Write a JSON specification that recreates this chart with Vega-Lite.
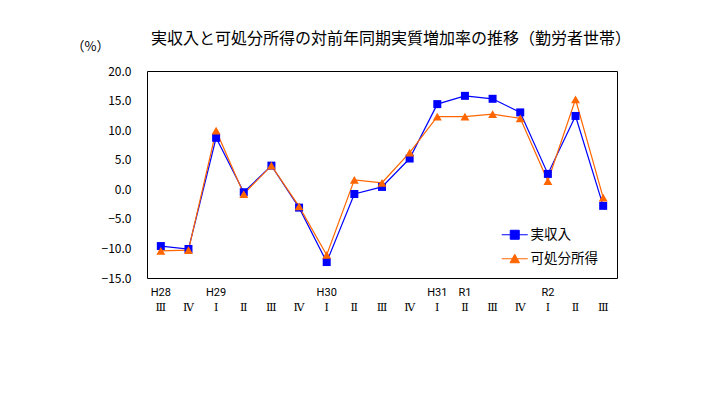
{
  "$schema": "https://vega.github.io/schema/vega-lite/v6.json",
  "width": 470,
  "height": 207,
  "autosize": {"type": "none"},
  "padding": {"left": 147, "top": 71, "right": 106, "bottom": 120},
  "background": "white",
  "config": {
    "view": {"stroke": "black", "strokeWidth": 1},
    "font": "Noto Sans CJK JP",
    "axis": {"labelOverlap": false}
  },
  "title": {
    "text": "実収入と可処分所得の対前年同期実質増加率の推移（勤労者世帯）",
    "font": "Noto Sans CJK JP",
    "fontSize": 16,
    "fontWeight": "normal",
    "color": "black",
    "anchor": "middle",
    "baseline": "alphabetic",
    "offset": -20,
    "dx": 9
  },
  "data": {
    "values": [
      {"period": "H28 Ⅲ", "series": "実収入", "value": -9.6},
      {"period": "H28 Ⅳ", "series": "実収入", "value": -10.1},
      {"period": "H29 Ⅰ", "series": "実収入", "value": 8.7},
      {"period": "H29 Ⅱ", "series": "実収入", "value": -0.5},
      {"period": "H29 Ⅲ", "series": "実収入", "value": 4.0},
      {"period": "H29 Ⅳ", "series": "実収入", "value": -3.1},
      {"period": "H30 Ⅰ", "series": "実収入", "value": -12.3},
      {"period": "H30 Ⅱ", "series": "実収入", "value": -0.8},
      {"period": "H30 Ⅲ", "series": "実収入", "value": 0.4},
      {"period": "H30 Ⅳ", "series": "実収入", "value": 5.2},
      {"period": "H31 Ⅰ", "series": "実収入", "value": 14.4},
      {"period": "R1 Ⅱ", "series": "実収入", "value": 15.8},
      {"period": "R1 Ⅲ", "series": "実収入", "value": 15.3},
      {"period": "R1 Ⅳ", "series": "実収入", "value": 13.0},
      {"period": "R2 Ⅰ", "series": "実収入", "value": 2.6},
      {"period": "R2 Ⅱ", "series": "実収入", "value": 12.4},
      {"period": "R2 Ⅲ", "series": "実収入", "value": -2.8},
      {"period": "H28 Ⅲ", "series": "可処分所得", "value": -10.4},
      {"period": "H28 Ⅳ", "series": "可処分所得", "value": -10.3},
      {"period": "H29 Ⅰ", "series": "可処分所得", "value": 9.9},
      {"period": "H29 Ⅱ", "series": "可処分所得", "value": -0.8},
      {"period": "H29 Ⅲ", "series": "可処分所得", "value": 4.0},
      {"period": "H29 Ⅳ", "series": "可処分所得", "value": -2.9},
      {"period": "H30 Ⅰ", "series": "可処分所得", "value": -11.1},
      {"period": "H30 Ⅱ", "series": "可処分所得", "value": 1.6},
      {"period": "H30 Ⅲ", "series": "可処分所得", "value": 1.1},
      {"period": "H30 Ⅳ", "series": "可処分所得", "value": 6.2},
      {"period": "H31 Ⅰ", "series": "可処分所得", "value": 12.3},
      {"period": "R1 Ⅱ", "series": "可処分所得", "value": 12.3},
      {"period": "R1 Ⅲ", "series": "可処分所得", "value": 12.7},
      {"period": "R1 Ⅳ", "series": "可処分所得", "value": 12.0},
      {"period": "R2 Ⅰ", "series": "可処分所得", "value": 1.4},
      {"period": "R2 Ⅱ", "series": "可処分所得", "value": 15.2},
      {"period": "R2 Ⅲ", "series": "可処分所得", "value": -1.4}
    ]
  },
  "encoding": {
    "x": {
      "field": "period",
      "type": "ordinal",
      "sort": null,
      "scale": {"type": "band", "paddingInner": 0, "paddingOuter": 0},
      "axis": {
        "title": null,
        "labelAngle": 0,
        "labelBaseline": "top",
        "labelLineHeight": 15,
        "labelPadding": 8,
        "labelFont": "Roboto, DejaVu Serif",
        "labelFontSize": 11,
        "labelColor": "black",
        "labelOverlap": false,
        "ticks": false,
        "domain": false,
        "labelExpr": "[indexof(['H28 Ⅲ','H29 Ⅰ','H30 Ⅰ','H31 Ⅰ','R1 Ⅱ','R2 Ⅰ'], datum.value) >= 0 ? split(datum.value, ' ')[0] : ' ', split(datum.value, ' ')[1]]"
      }
    },
    "y": {
      "field": "value",
      "type": "quantitative",
      "scale": {"domain": [-15, 20], "nice": false, "zero": false},
      "axis": {
        "title": "（%）",
        "titleAngle": 0,
        "titleX": -57,
        "titleY": -25,
        "titleAlign": "center",
        "titleBaseline": "middle",
        "titleFont": "Noto Sans CJK JP",
        "titleFontSize": 13,
        "titleFontWeight": "normal",
        "titleColor": "black",
        "values": [-15, -10, -5, 0, 5, 10, 15, 20],
        "format": ".1f",
        "labelFont": "Noto Sans CJK JP",
        "labelFontSize": 12,
        "labelColor": "black",
        "labelPadding": 16,
        "labelOverlap": false,
        "ticks": false,
        "domain": false,
        "grid": false
      }
    }
  },
  "layer": [
    {
      "data": {"values": [{"zero": 0}]},
      "mark": {"type": "rule", "color": "#808080", "strokeWidth": 1},
      "encoding": {"x": null, "y": {"datum": 0, "type": "quantitative"}}
    },
    {
      "mark": {"type": "line", "strokeWidth": 1.2},
      "encoding": {
        "color": {
          "field": "series",
          "type": "nominal",
          "scale": {"domain": ["実収入", "可処分所得"], "range": ["#0000ff", "#ff6600"]},
          "legend": {
            "title": null,
            "orient": "none",
            "legendX": 361,
            "legendY": 157,
            "padding": 0,
            "symbolSize": 100,
            "symbolStrokeWidth": 1,
            "labelOffset": 9,
            "labelFont": "Noto Sans CJK JP",
            "labelFontSize": 13.5,
            "labelColor": "black",
            "rowPadding": 9,
            "encode": {
              "symbols": {
                "update": {
                  "shape": {"signal": "datum.value === '実収入' ? 'M-2.6,0H2.6M-0.9,-0.9H0.9V0.9H-0.9Z' : 'M-2.6,0H2.6M0,-0.9L0.95,0.8H-0.95Z'"},
                  "strokeWidth": {"value": 1},
                  "fill": {"signal": "datum.value === '実収入' ? '#0000ff' : '#ff6600'"},
                  "stroke": {"signal": "datum.value === '実収入' ? '#0000ff' : '#ff6600'"},
                  "opacity": {"value": 1}
                }
              }
            }
          }
        }
      }
    },
    {
      "transform": [{"filter": "datum.series === '実収入'"}],
      "mark": {"type": "point", "filled": true, "opacity": 1, "size": 64, "shape": "square", "color": "#0000ff"},
      "encoding": {}
    },
    {
      "transform": [{"filter": "datum.series === '可処分所得'"}],
      "mark": {"type": "point", "filled": true, "opacity": 1, "size": 80, "shape": "triangle-up", "color": "#ff6600"},
      "encoding": {}
    }
  ]
}
